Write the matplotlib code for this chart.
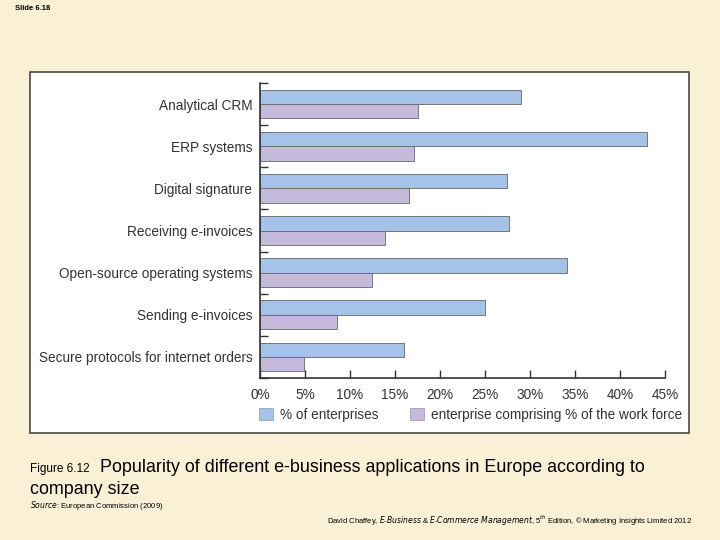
import matplotlib
matplotlib.use('Agg')
from matplotlib import pyplot as plt
from matplotlib.patches import Rectangle, Patch
import numpy as np

plt.rcParams['font.family'] = ['Liberation Sans', 'DejaVu Sans']

categories = ['Analytical CRM', 'ERP systems', 'Digital signature',
              'Receiving e-invoices', 'Open-source operating systems',
              'Sending e-invoices', 'Secure protocols for internet orders']
pct_enterprises = [29, 43, 27.4, 27.7, 34.1, 25, 16]
pct_workforce = [17.5, 17.1, 16.5, 13.9, 12.4, 8.5, 4.9]
series_labels = ['% of enterprises', 'enterprise comprising % of the work force']
xticks = [0, 5, 10, 15, 20, 25, 30, 35, 40, 45]

bg = '#faf0d6'
blue = '#a5c3e9'
purple = '#c5badb'
edge = '#666666'
txt = '#333333'

fig = plt.figure(figsize=(7.2, 5.4), dpi=100)
fig.patch.set_facecolor(bg)

# white chart panel
fig.patches.append(Rectangle((30 / 720, 1 - 433 / 540), 659 / 720, 361 / 540,
                             transform=fig.transFigure, facecolor='white',
                             edgecolor='#4a4a40', linewidth=1.2, zorder=-5))

ax = fig.add_axes([260 / 720, 1 - 378 / 540, 405 / 720, 295 / 540])
ax.set_zorder(2)
ax.patch.set_alpha(0)

y = np.arange(len(categories))
h = 0.34
ax.barh(y - h / 2, pct_enterprises, height=h, color=blue, edgecolor=edge, linewidth=0.6)
ax.barh(y + h / 2, pct_workforce, height=h, color=purple, edgecolor=edge, linewidth=0.6)

ax.set_ylim(len(categories) - 0.5, -0.5)
ax.set_xlim(0, 45)

# ticks at the category boundaries, labels at the centres
ax.set_yticks(np.arange(-0.5, len(categories), 1.0))
ax.set_yticklabels([])
ax.set_yticks(y, minor=True)
ax.set_yticklabels(categories, minor=True, fontsize=9.8, color=txt)
ax.tick_params(axis='y', which='major', direction='in', length=6, color='#333333', width=1)
ax.tick_params(axis='y', which='minor', length=0, pad=5.5)

ax.set_xticks(xticks)
ax.set_xticklabels(['%d%%' % t for t in xticks], fontsize=9.8, color=txt)
ax.tick_params(axis='x', direction='in', length=6, color='#333333', width=1, pad=7)

for s in ['top', 'right']:
    ax.spines[s].set_visible(False)
for s in ['left', 'bottom']:
    ax.spines[s].set_color('#333333')
    ax.spines[s].set_linewidth(1.2)

handles = [Patch(facecolor=blue, edgecolor='#8899aa', linewidth=0.5),
           Patch(facecolor=purple, edgecolor='#998fa8', linewidth=0.5)]
leg = fig.legend(handles, series_labels, loc='center left', ncol=2,
                 bbox_to_anchor=(247 / 720, 1 - 415 / 540), frameon=False,
                 fontsize=9.8, handlelength=1.0, handleheight=1.0,
                 handletextpad=0.5, columnspacing=2.35)
for t in leg.get_texts():
    t.set_color(txt)

# caption and slide furniture
fig.text(15 / 720, 1 - 8 / 540, 'Slide 6.18', fontsize=5.5, fontweight='bold',
         va='center', color='black')
fig.text(30 / 720, 1 - 469 / 540, 'Figure 6.12', fontsize=8.5, va='center')
fig.text(100 / 720, 1 - 468 / 540,
         'Popularity of different e-business applications in Europe according to',
         fontsize=12.9, va='center')
fig.text(30 / 720, 1 - 490 / 540, 'company size', fontsize=12.9, va='center')
fig.text(30 / 720, 1 - 506 / 540, r'$\it{Source}$: European Commission (2009)',
         fontsize=5.5, va='center')
fig.text(692 / 720, 1 - 521 / 540,
         r'David Chaffey, $\it{E}$-$\it{Business}$ & $\it{E}$-$\it{Commerce\ Management}$, 5$^{th}$ Edition, © Marketing Insights Limited 2012',
         fontsize=5.5, va='center', ha='right')

fig.savefig('out.png', dpi=100, facecolor=bg)
